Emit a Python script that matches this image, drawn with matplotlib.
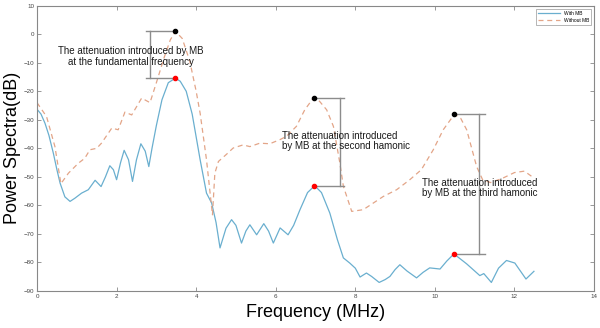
import matplotlib
matplotlib.use('Agg')
import matplotlib.pyplot as plt

plt.rcParams['font.family'] = ['Liberation Sans', 'DejaVu Sans']

# spectrum with microbubbles (MHz, dB)
freq_with = [0.0, 0.1, 0.2, 0.3, 0.41, 0.5, 0.58, 0.7, 0.83, 0.95, 1.12, 1.29, 1.46, 1.61, 1.72, 1.83,
             1.92, 2.0, 2.1, 2.19, 2.3, 2.40, 2.5, 2.61, 2.72, 2.81, 2.89, 3.0, 3.14, 3.3, 3.48,
             3.6, 3.75, 3.9, 4.0, 4.1, 4.26, 4.39, 4.5, 4.6, 4.75, 4.89, 5.0, 5.14, 5.25, 5.35,
             5.52, 5.70, 5.82, 5.94, 6.11, 6.31, 6.45, 6.61, 6.8, 6.98, 7.15, 7.36, 7.55, 7.70,
             7.86, 8.0, 8.12, 8.28, 8.41, 8.60, 8.75, 8.87, 9.0, 9.12, 9.3, 9.54, 9.7, 9.87,
             10.13, 10.3, 10.48, 10.8, 11.13, 11.23, 11.42, 11.6, 11.80, 12.01, 12.15, 12.29, 12.49]
db_with = [-26.3, -28, -31.2, -35.5, -41.7, -47.5, -52.2, -57, -58.6, -57.5, -55.7, -54.5, -51.2, -53.4, -50, -46.1,
           -47.5, -51, -45, -40.7, -44, -51.6, -44, -38.4, -41, -46.4, -40, -32, -23, -17, -15.4,
           -16.5, -20, -28, -36, -44, -55.7, -59.2, -66, -74.9, -68, -65, -67, -73.2, -69, -66.8,
           -70.3, -66.4, -69, -73.2, -67.9, -70.3, -67, -61.5, -55.5, -53.1, -55.5, -62.7, -72, -78.4,
           -80.2, -82, -85.1, -83.7, -84.9, -87, -86, -84.9, -82.5, -80.8, -83, -85.4, -83.5, -81.9,
           -82.3, -79.5, -77, -80.5, -84.6, -83.9, -87, -82, -79.3, -80.2, -83, -85.8, -83.1]

# spectrum without microbubbles
freq_without = [0.0, 0.24, 0.45, 0.6, 0.79, 1.04, 1.2, 1.33, 1.5, 1.62, 1.88, 2.04, 2.21, 2.38,
                2.63, 2.84, 3.0, 3.2, 3.35, 3.48, 3.65, 3.84, 4.0, 4.1, 4.26, 4.41, 4.47,
                4.56, 4.77, 4.93, 5.18, 5.35, 5.6, 5.85, 6.1, 6.27, 6.52, 6.73, 6.95, 7.1,
                7.28, 7.45, 7.61, 7.70, 7.91, 8.2, 8.45, 8.7, 9.04, 9.37, 9.66, 9.96, 10.21,
                10.49, 10.65, 10.8, 11.05, 11.2, 11.4, 11.7, 12.0, 12.25, 12.5]
db_without = [-24, -28.9, -39.4, -52.4, -48.7, -45.2, -43.5, -40.5, -40, -38.2, -32.9, -33.5, -27.3, -28.3,
              -22.4, -24, -17, -8, -2, 1, -1.5, -9.5, -20, -27.7, -44, -63.3, -48.7,
              -44.6, -42, -39.9, -38.8, -39.4, -38.2, -38.4, -37, -35.8, -32.3, -26.5, -22.3, -23.5,
              -26.5, -32.3, -45, -53.3, -62.1, -61.5, -59.2, -56.9, -54.5, -51, -47.5, -40.5, -33.5,
              -28.1, -29.5, -33.5, -46.4, -51, -52, -50.5, -48.5, -48, -50.5]

# harmonic peaks (frequency, top dB, bottom dB, bracket x)
peak_freq = [3.48, 6.96, 10.48]
peak_top = [1.0, -22.3, -28.0]
peak_bot = [-15.4, -53.1, -77.0]
bracket_x = [2.83, 7.62, 11.12]
bracket_end = [2.73, 7.72, 11.26]

notes = ['The attenuation introduced by MB\nat the fundamental frequency',
         'The attenuation introduced\nby MB at the second hamonic',
         'The attenuation introduced\nby MB at the third hamonic']
note_pos = [(2.36, -7.8), (6.17, -37.4), (9.67, -53.8)]
note_align = ['center', 'left', 'left']

fig = plt.figure(figsize=(6, 3.28), dpi=100)
ax = fig.add_axes([0.0617, 0.1128, 0.9283, 0.870])

ax.plot(freq_with, db_with, color='#6aafcf', lw=0.9, label='With MB')
ax.plot(freq_without, db_without, color='#e3a588', lw=0.9, ls=(0, (4, 3)), label='Without MB')

for f, t, b, bx, be in zip(peak_freq, peak_top, peak_bot, bracket_x, bracket_end):
    ax.plot([be, f], [t, t], color='#8c8c8c', lw=1.0, zorder=3)
    ax.plot([be, f], [b, b], color='#8c8c8c', lw=1.0, zorder=3)
    ax.plot([bx, bx], [t, b], color='#8c8c8c', lw=1.0, zorder=3)
    ax.plot(f, t, 'o', color='black', ms=3, zorder=4)
    ax.plot(f, b, 'o', color='red', ms=3, zorder=4)

for txt, (x, y), ha in zip(notes, note_pos, note_align):
    ax.text(x, y, txt, ha=ha, va='center', multialignment=ha, fontsize=7,
            linespacing=1.05, color='#1a1a1a', zorder=5)

ax.set_xlim(0, 14)
ax.set_ylim(-90, 10)
ax.set_xticks(range(0, 15, 2))
ax.set_yticks(range(-90, 11, 10))
ax.tick_params(direction='in', top=True, right=True, length=3, width=0.6,
               labelsize=4.5, labelcolor='#444444', color='#888888', pad=2)
for s in ax.spines.values():
    s.set_color('#888888')
    s.set_linewidth(0.8)

ax.set_xlabel('Frequency (MHz)', fontsize=13, labelpad=4)
ax.set_ylabel('Power Spectra(dB)', fontsize=13, labelpad=2)

leg = ax.legend(loc='upper right', fontsize=3.5, handlelength=4.5, fancybox=False,
                edgecolor='#999999', borderaxespad=0.6, framealpha=1)
leg.get_frame().set_linewidth(0.5)

fig.savefig('out.png', dpi=100)
